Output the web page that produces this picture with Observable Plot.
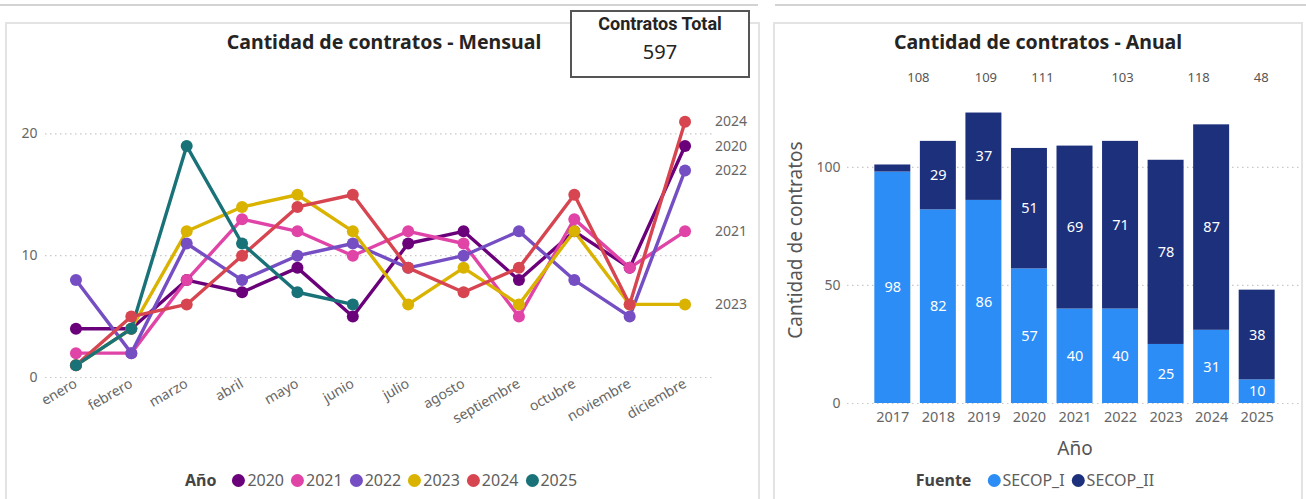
<!DOCTYPE html>
<html><head><meta charset="utf-8">
<script src="https://cdn.jsdelivr.net/npm/d3@7"></script>
<script src="https://cdn.jsdelivr.net/npm/@observablehq/plot@0.6"></script>
<style>
html,body{margin:0;padding:0;background:#fff}
body{width:1306px;height:499px;overflow:hidden;position:relative;font-family:"Noto Sans",sans-serif}
.abs{position:absolute}
.title{font-weight:700;font-size:19.5px;color:#252423;white-space:nowrap;transform:translateX(-50%)}
.legend{display:flex;align-items:center;white-space:nowrap;font-size:16px;color:#605e5c;transform:translateX(-50%)}
.legend b{color:#444;margin-right:9px}
.legend .dot{display:inline-block;width:13px;height:13px;border-radius:50%;margin:0 2px 0 7px}
</style></head><body>
<div class="abs" style="left:0;top:4px;width:758px;height:2px;background:#d3d3d3"></div>
<div class="abs" style="left:775px;top:4px;width:531px;height:2px;background:#d3d3d3"></div>
<div class="abs" style="left:5px;top:22px;width:755px;height:480px;border:2px solid #e3e3e3;box-sizing:border-box"></div>
<div class="abs" style="left:773px;top:22px;width:530px;height:480px;border:2px solid #e3e3e3;box-sizing:border-box"></div>

<div id="left" class="abs" style="left:0;top:100px"></div>
<div id="right" class="abs" style="left:775px;top:60px"></div>

<div class="abs title" style="left:384px;top:28px">Cantidad de contratos - Mensual</div>
<div class="abs title" style="left:1038px;top:28px">Cantidad de contratos - Anual</div>

<div class="abs" style="left:570px;top:10px;width:180px;height:68px;border:2px solid #555;box-sizing:border-box;background:#fff;text-align:center">
  <div style="font-family:'Liberation Sans Narrow','Roboto',sans-serif;font-weight:700;font-size:18px;color:#252423;margin-top:1px">Contratos Total</div>
  <div style="font-family:'Noto Sans',sans-serif;font-size:20px;color:#252423;margin-top:4px">597</div>
</div>

<div id="legLeft" class="abs legend" style="left:381px;top:469px"></div>
<div id="legRight" class="abs legend" style="left:1035px;top:469px"></div>

<script>
// ---------- data ----------
const months = ["enero","febrero","marzo","abril","mayo","junio","julio","agosto","septiembre","octubre","noviembre","diciembre"];
const lineYears = ["2020","2021","2022","2023","2024","2025"];
const v2020 = [4,4,8,7,9,5,11,12,8,12,9,19];
const v2021 = [2,2,8,13,12,10,12,11,5,13,9,12];
const v2022 = [8,2,11,8,10,11,9,10,12,8,5,17];
const v2023 = [1,4,12,14,15,12,6,9,6,12,6,6];
const v2024 = [1,5,6,10,14,15,9,7,9,15,6,21];
const v2025 = [1,4,19,11,7,6];

const annualYears = ["2017","2018","2019","2020","2021","2022","2023","2024","2025"];
const secopI  = [98,82,86,57,40,40,25,31,10];
const secopII = [3,29,37,51,69,71,78,87,38];
const fuentes = ["SECOP_I","SECOP_II"];
const totalLabels = ["108","109","111","103","118","48"];
const totalLabelYears = ["2018","2019","2020","2022","2024","2025"];

// ---------- styles ----------
const lineColors = ["#6B007B","#E044A7","#744EC2","#D9B300","#D64550","#197278"];
const barColors = ["#2B8DF5","#1C307C"];
const FONT = "'Noto Sans', sans-serif";

// ---------- left: monthly lines ----------
const series = [v2020, v2021, v2022, v2023, v2024, v2025];
const lineData = [];
series.forEach((vals, i) => vals.forEach((v, j) => lineData.push({year: lineYears[i], month: months[j], value: v})));
const lastPoints = series.map((vals, i) => ({year: lineYears[i], month: months[vals.length - 1], value: vals[vals.length - 1]}))
  .filter(d => d.month === "diciembre");

const left = Plot.plot({
  width: 765, height: 340,
  marginLeft: 45, marginRight: 50, marginTop: 9, marginBottom: 63,
  style: {fontFamily: FONT, fontSize: "14px", color: "#666", background: "transparent"},
  x: {type: "point", domain: months, padding: 0.55, round: false, label: null},
  y: {domain: [0, 22], label: null},
  color: {domain: lineYears, range: lineColors},
  marks: [
    Plot.ruleY([0, 10, 20], {stroke: "#c8c8c8", strokeDasharray: "1.5,3.5", strokeWidth: 1.2}),
    Plot.axisY({ticks: [0, 10, 20], tickSize: 0, tickPadding: 8, label: null}),
    Plot.axisX({tickSize: 0, tickPadding: 5, tickRotate: -30, label: null}),
    Plot.line(lineData, {x: "month", y: "value", z: "year", stroke: "year", strokeWidth: 3.4}),
    Plot.dot(lineData, {x: "month", y: "value", fill: "year", r: 6}),
    Plot.text(lastPoints, {x: "month", y: "value", text: "year", dx: 30, textAnchor: "start", fill: "#666", fontSize: 14})
  ]
});
document.getElementById("left").appendChild(left);

// ---------- right: annual stacked bars ----------
const barData = [];
annualYears.forEach((y, i) => {
  barData.push({year: y, fuente: fuentes[0], value: secopI[i]});
  barData.push({year: y, fuente: fuentes[1], value: secopII[i]});
});
const totals = totalLabels.map((t, i) => ({year: totalLabelYears[i], text: t}));
const totalOffsets = {"2018": -20, "2019": 2, "2020": 13, "2022": 2, "2024": -13, "2025": 4};

const right = Plot.plot({
  width: 531, height: 420,
  marginLeft: 72, marginRight: 4, marginTop: 36, marginBottom: 77,
  style: {fontFamily: FONT, fontSize: "14px", color: "#666", background: "transparent"},
  x: {type: "band", domain: annualYears, paddingInner: 0.21, paddingOuter: 0.6, round: false, label: null},
  y: {domain: [0, 130], label: null},
  color: {domain: fuentes, range: barColors},
  marks: [
    Plot.ruleY([0, 50, 100], {stroke: "#c8c8c8", strokeDasharray: "1.5,3.5", strokeWidth: 1.2}),
    Plot.axisY({ticks: [0, 50, 100], tickSize: 0, tickPadding: 7, label: null}),
    Plot.axisX({tickSize: 0, tickPadding: 8, label: null, fontSize: 14.5}),
    Plot.barY(barData, {x: "year", y: "value", fill: "fuente", z: "fuente"}),
    Plot.text(barData, Plot.stackY({x: "year", y: "value", z: "fuente", text: d => d.value >= 5 ? d.value : "", fill: "white", fontSize: 14.5})),
    ...totals.map(d => Plot.text([d], {x: "year", text: "text", frameAnchor: "top", dy: -24, dx: totalOffsets[d.year], fill: "#555", fontSize: 13})),
    Plot.text(["Año"], {frameAnchor: "bottom", dy: 51, fill: "#555", fontSize: 19}),
    Plot.text(["Cantidad de contratos"], {frameAnchor: "left", textAnchor: "middle", dx: -52, dy: -10, rotate: -90, fill: "#555", fontSize: 19})
  ]
});
document.getElementById("right").appendChild(right);

// ---------- legends ----------
const legL = document.getElementById("legLeft");
legL.innerHTML = "<b>Año</b>" + lineYears.map((y, i) => `<span class="dot" style="background:${lineColors[i]}"></span><span>${y}</span>`).join("");
const legR = document.getElementById("legRight");
legR.innerHTML = "<b>Fuente</b>" + fuentes.map((f, i) => `<span class="dot" style="background:${barColors[i]}"></span><span>${f}</span>`).join("");
</script>
</body></html>
